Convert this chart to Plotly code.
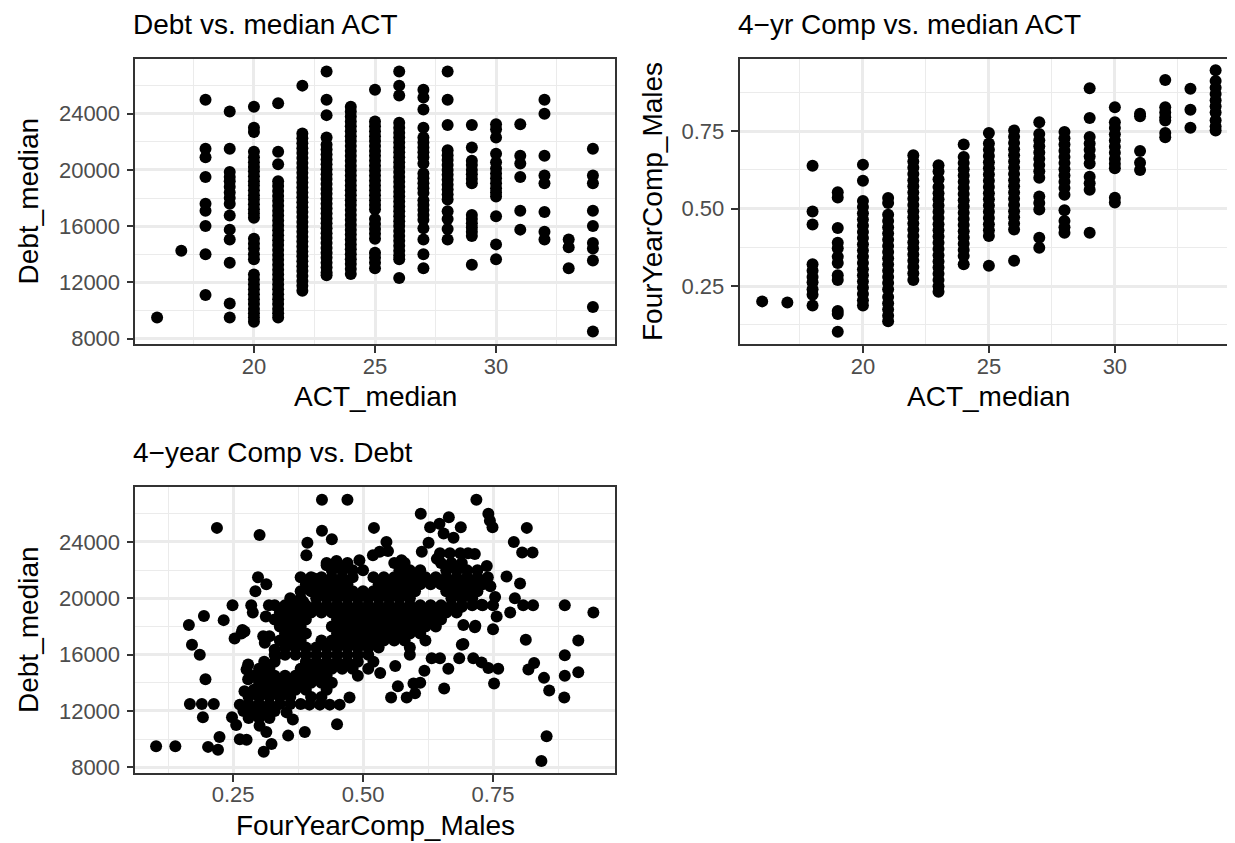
import plotly.graph_objects as go

# ---------------- data ----------------
act_levels = [16, 17, 18, 19, 20, 21, 22, 23, 24, 25, 26, 27, 28, 29, 30, 31, 32, 33, 34]

debt_by_act = [
    [9500],
    [14250],
    [25000, 21500, 20900, 19500, 17600, 17100, 16000, 14000, 11100],
    [24150, 21500, 19850, 19500, 19200, 18800, 18400, 18000, 17600, 16750, 15750, 15050, 13400, 10500, 9500],
    [24500, 23000, 22700, 21300, 20900, 20550, 20200, 19900, 19550, 19200, 18900, 18550, 18200, 17900, 17550,
     17200, 16900, 16600, 15100, 14750, 14400, 14000, 13650, 12550, 12200, 11850, 11500, 11150, 10800, 10450,
     10100, 9800, 9500, 9200],
    [24750, 21300, 20400, 19200, 18850, 18500, 18150, 17800, 17450, 17100, 16750, 16400, 16050, 15700, 15350,
     15000, 14650, 14300, 13950, 13600, 13250, 12900, 12550, 12200, 11850, 11500, 11150, 10800, 10450, 10100,
     9800, 9500],
    [26000, 22600, 22250, 21900, 21550, 21200, 20850, 20500, 20150, 19800, 19450, 19100, 18750, 18400, 18050,
     17700, 17350, 17000, 16650, 16300, 15950, 15600, 15250, 14900, 14550, 14200, 13850, 13500, 13150, 12800,
     12450, 12100, 11750, 11400],
    [27000, 25000, 23900, 22300, 21800, 21450, 21100, 20750, 20400, 20050, 19700, 19350, 19000, 18650, 18300,
     17950, 17600, 17250, 16900, 16550, 16200, 15850, 15500, 15150, 14800, 14450, 14100, 13750, 13400, 13050,
     12700, 12500],
    [24500, 24150, 23800, 23450, 23100, 22750, 22400, 22050, 21700, 21350, 21000, 20650, 20300, 19950, 19600,
     19250, 18900, 18550, 18200, 17850, 17500, 17150, 16800, 16450, 16100, 15750, 15400, 15050, 14700, 14350,
     14000, 13650, 13300, 12950, 12600],
    [25700, 23450, 23100, 22750, 22400, 22050, 21700, 21350, 21000, 20650, 20300, 19950, 19600, 19250, 18900,
     18550, 18200, 17850, 17500, 17200, 16500, 16150, 15800, 15450, 15100, 14100, 13750, 13400, 13000],
    [27000, 26000, 25300, 23350, 23000, 22650, 22300, 21950, 21600, 21250, 20900, 20550, 20200, 19850, 19500,
     19150, 18800, 18450, 18100, 17750, 17400, 17050, 16700, 16350, 16000, 15650, 15300, 14950, 14600, 14250,
     13900, 13650, 12300],
    [25700, 25150, 24300, 23000, 22300, 21950, 21600, 21250, 20900, 20450, 19750, 19400, 19050, 18700, 18350,
     17850, 17500, 17150, 16800, 16450, 15850, 15050, 14000, 13000],
    [27000, 25000, 23200, 21400, 21050, 20700, 20350, 20000, 19650, 19300, 18950, 18600, 18250, 17900, 17050,
     16500, 15800, 15050],
    [23200, 21600, 20650, 20350, 20000, 19700, 19350, 19050, 16800, 16500, 16200, 15900, 15600, 15300, 13250],
    [23250, 22900, 22300, 21150, 20550, 20100, 19750, 19400, 19050, 18700, 18400, 18100, 16700, 14700, 13650],
    [23250, 21000, 20450, 19500, 17100, 15750],
    [25000, 24000, 21000, 19600, 19050, 17000, 15600, 15050],
    [15050, 14500, 13000],
    [21500, 19600, 19050, 17100, 16000, 14800, 14400, 13550, 10250, 8500],
]

comp_by_act = [
    [0.201],
    [0.197],
    [0.638, 0.491, 0.449, 0.321, 0.300, 0.280, 0.263, 0.240, 0.222, 0.188],
    [0.553, 0.536, 0.438, 0.390, 0.372, 0.345, 0.325, 0.285, 0.270, 0.170, 0.160, 0.103],
    [0.642, 0.590, 0.525, 0.505, 0.485, 0.465, 0.445, 0.425, 0.405, 0.385, 0.365, 0.345, 0.325, 0.305, 0.285,
     0.265, 0.245, 0.225, 0.205, 0.188],
    [0.534, 0.518, 0.480, 0.460, 0.440, 0.420, 0.400, 0.380, 0.360, 0.340, 0.320, 0.300, 0.280, 0.260, 0.240,
     0.215, 0.195, 0.175, 0.155, 0.137],
    [0.672, 0.652, 0.632, 0.612, 0.592, 0.572, 0.552, 0.532, 0.512, 0.492, 0.472, 0.452, 0.432, 0.412, 0.392,
     0.372, 0.352, 0.332, 0.312, 0.292, 0.270],
    [0.640, 0.620, 0.595, 0.570, 0.550, 0.530, 0.510, 0.490, 0.470, 0.450, 0.430, 0.410, 0.390, 0.370, 0.350,
     0.330, 0.310, 0.290, 0.270, 0.250, 0.232],
    [0.707, 0.667, 0.647, 0.627, 0.607, 0.587, 0.567, 0.547, 0.527, 0.507, 0.487, 0.467, 0.447, 0.427, 0.407,
     0.387, 0.367, 0.347, 0.321],
    [0.744, 0.710, 0.690, 0.670, 0.650, 0.630, 0.610, 0.590, 0.570, 0.550, 0.530, 0.510, 0.490, 0.470, 0.450,
     0.430, 0.412, 0.316],
    [0.752, 0.732, 0.712, 0.692, 0.672, 0.652, 0.632, 0.612, 0.592, 0.572, 0.552, 0.532, 0.512, 0.492, 0.472,
     0.452, 0.433, 0.332],
    [0.779, 0.741, 0.721, 0.701, 0.681, 0.661, 0.641, 0.621, 0.600, 0.539, 0.518, 0.497, 0.406, 0.374],
    [0.747, 0.727, 0.707, 0.687, 0.667, 0.647, 0.627, 0.607, 0.587, 0.567, 0.545, 0.495, 0.460, 0.440, 0.422],
    [0.888, 0.792, 0.731, 0.710, 0.690, 0.668, 0.646, 0.603, 0.582, 0.561, 0.422],
    [0.827, 0.779, 0.760, 0.740, 0.720, 0.700, 0.680, 0.660, 0.645, 0.630, 0.535, 0.520],
    [0.806, 0.798, 0.686, 0.648, 0.625],
    [0.915, 0.827, 0.810, 0.795, 0.784, 0.744, 0.730],
    [0.887, 0.819, 0.761],
    [0.946, 0.912, 0.890, 0.870, 0.850, 0.830, 0.810, 0.785, 0.765, 0.752],
]

# panel 3: scattered schools (comp, debt)
p3_comp = [0.102, 0.139, 0.165, 0.171, 0.186, 0.194, 0.197, 0.167, 0.190, 0.192, 0.213, 0.202, 0.221, 0.224,
           0.219, 0.232, 0.249, 0.253, 0.266, 0.272, 0.248, 0.256, 0.263, 0.263, 0.276, 0.301, 0.298, 0.314,
           0.293, 0.285, 0.288, 0.268, 0.279, 0.276, 0.279, 0.272, 0.309, 0.324, 0.314, 0.301, 0.356, 0.388,
           0.450, 0.365, 0.353, 0.474, 0.308, 0.320, 0.311, 0.319, 0.313, 0.349, 0.372, 0.385, 0.393, 0.391,
           0.406, 0.421, 0.421, 0.470, 0.440, 0.430, 0.449, 0.462, 0.493, 0.519, 0.521, 0.545, 0.532, 0.548,
           0.574, 0.611, 0.613, 0.626, 0.629, 0.647, 0.665, 0.655, 0.674, 0.688, 0.718, 0.741, 0.744, 0.749,
           0.790, 0.806, 0.826, 0.815, 0.738, 0.683, 0.642, 0.648, 0.667, 0.687, 0.702, 0.715, 0.776, 0.802,
           0.792, 0.808, 0.827, 0.888, 0.943, 0.783, 0.757, 0.754, 0.745, 0.693, 0.715, 0.750, 0.728, 0.690,
           0.813, 0.914, 0.888, 0.888, 0.914, 0.887, 0.818, 0.829, 0.848, 0.858, 0.853, 0.843, 0.752, 0.760,
           0.741, 0.728, 0.712, 0.690, 0.685, 0.664, 0.656, 0.648, 0.632, 0.618, 0.610, 0.597, 0.600, 0.584,
           0.554, 0.567, 0.533, 0.562, 0.455, 0.436, 0.417, 0.397, 0.330, 0.332, 0.314, 0.308, 0.716, 0.693]
p3_debt = [9500, 9500, 18100, 16700, 16000, 18750, 14250, 12500, 12500, 11550, 12500, 9450, 9250, 10150,
           25000, 18450, 19500, 17150, 17500, 17650, 11550, 11000, 12450, 10000, 9950, 24500, 21500, 21000,
           20500, 19500, 19000, 17750, 15300, 14950, 14250, 13400, 9100, 9650, 10500, 10950, 10250, 10500,
           11050, 11400, 11900, 12950, 17300, 17300, 16850, 19500, 18700, 19200, 19400, 19750, 23950, 23050,
           21400, 24800, 27000, 27000, 24200, 22350, 22650, 22050, 22700, 23050, 25000, 24000, 23300, 23350,
           22700, 26000, 23300, 23950, 25050, 25300, 25750, 24600, 24300, 25050, 27000, 26000, 25500, 25050,
           24000, 23250, 23250, 25000, 22300, 22100, 22800, 23200, 23200, 23200, 23200, 23150, 21550, 21050,
           20000, 19500, 19500, 19500, 19000, 19000, 18700, 20100, 20850, 18100, 17950, 17800, 19550, 19400,
           17050, 17000, 15950, 14500, 14750, 12950, 14950, 15400, 14350, 13450, 10200, 8450, 13950, 15000,
           15050, 15450, 15750, 16700, 15750, 15000, 13600, 15750, 15750, 14850, 14000, 13950, 13250, 12950,
           12950, 13750, 14700, 15200, 12450, 12450, 12450, 12450, 16350, 15900, 15200, 13900, 18050, 16750]

# dense core of panel 3, one row of comp values per debt level
core_debt = [22500, 22000, 21500, 21000, 20500, 20000, 19500, 19000, 18500, 18000, 17500, 17000,
             16500, 16000, 15500, 15000, 14500, 14000, 13500, 13000, 12500, 12000, 11500]
core_comp = [
    [0.43, 0.45, 0.47, 0.56, 0.58, 0.65, 0.67, 0.69],
    [0.44, 0.46, 0.48, 0.50, 0.57, 0.59, 0.61, 0.66, 0.68, 0.70, 0.72],
    [0.38, 0.40, 0.42, 0.44, 0.46, 0.48, 0.52, 0.54, 0.56, 0.58, 0.60, 0.62, 0.64, 0.66, 0.68, 0.70, 0.72, 0.74],
    [0.39, 0.41, 0.43, 0.45, 0.47, 0.53, 0.55, 0.57, 0.59, 0.61, 0.63, 0.65, 0.67, 0.69, 0.71, 0.73],
    [0.38, 0.40, 0.42, 0.44, 0.46, 0.48, 0.50, 0.52, 0.54, 0.56, 0.58, 0.60, 0.66, 0.68, 0.70, 0.72],
    [0.36, 0.38, 0.41, 0.43, 0.45, 0.47, 0.49, 0.51, 0.53, 0.55, 0.57, 0.59, 0.67, 0.69, 0.71],
    [0.33, 0.35, 0.37, 0.39, 0.41, 0.43, 0.45, 0.47, 0.49, 0.51, 0.53, 0.55, 0.57, 0.59, 0.61, 0.63, 0.65,
     0.67, 0.69, 0.71, 0.73, 0.75],
    [0.34, 0.36, 0.38, 0.40, 0.42, 0.44, 0.46, 0.48, 0.50, 0.52, 0.54, 0.56, 0.58, 0.60, 0.62, 0.64, 0.66, 0.68],
    [0.33, 0.35, 0.37, 0.39, 0.45, 0.47, 0.49, 0.51, 0.53, 0.55, 0.57, 0.59, 0.61, 0.63, 0.65],
    [0.34, 0.36, 0.38, 0.44, 0.46, 0.48, 0.50, 0.52, 0.54, 0.56, 0.58, 0.60, 0.62, 0.64],
    [0.35, 0.37, 0.39, 0.45, 0.47, 0.49, 0.51, 0.53, 0.55, 0.57, 0.59, 0.61],
    [0.34, 0.36, 0.38, 0.42, 0.44, 0.46, 0.48, 0.50, 0.52, 0.54, 0.56, 0.58, 0.62],
    [0.35, 0.37, 0.39, 0.41, 0.43, 0.45, 0.47, 0.49, 0.51, 0.53, 0.59],
    [0.33, 0.35, 0.37, 0.39, 0.41, 0.43, 0.45, 0.47, 0.49, 0.51, 0.59],
    [0.31, 0.33, 0.39, 0.41, 0.43, 0.45, 0.47, 0.49, 0.52],
    [0.30, 0.32, 0.38, 0.40, 0.42, 0.44, 0.46, 0.48, 0.51],
    [0.29, 0.31, 0.33, 0.35, 0.37, 0.39, 0.41, 0.43, 0.49],
    [0.30, 0.32, 0.34, 0.36, 0.38, 0.40, 0.42, 0.44],
    [0.29, 0.31, 0.33, 0.35, 0.37, 0.39, 0.43],
    [0.28, 0.30, 0.32, 0.34, 0.36, 0.40, 0.42],
    [0.28, 0.30, 0.32, 0.34, 0.36, 0.38],
    [0.27, 0.29, 0.31, 0.33],
    [0.28, 0.30, 0.32],
]

titles = ["Debt vs. median ACT", "4\u2212yr Comp vs. median ACT", "4\u2212year Comp vs. Debt"]
x_titles = ["ACT_median", "ACT_median", "FourYearComp_Males"]
y_titles = ["Debt_median", "FourYearComp_Males", "Debt_median"]

# ---------------- build ----------------
x1, y1, x2, y2 = [], [], [], []
for a, ds in zip(act_levels, debt_by_act):
    x1 += [a] * len(ds)
    y1 += ds
for a, cs in zip(act_levels, comp_by_act):
    x2 += [a] * len(cs)
    y2 += cs
x3, y3 = list(p3_comp), list(p3_debt)
for d, cs in zip(core_debt, core_comp):
    x3 += cs
    y3 += [d] * len(cs)

W, H = 1235, 843
FONT = "Liberation Sans, Arial, Helvetica, sans-serif"
MS = 12

fig = go.Figure()
mk = dict(color="black", size=MS, line=dict(width=0))
fig.add_trace(go.Scatter(x=x1, y=y1, mode="markers", marker=mk, xaxis="x", yaxis="y"))
fig.add_trace(go.Scatter(x=x2, y=y2, mode="markers", marker=mk, xaxis="x2", yaxis="y2"))
fig.add_trace(go.Scatter(x=x3, y=y3, mode="markers", marker=mk, xaxis="x3", yaxis="y3"))


def px_x(p):
    return p / W


def px_y(p):
    return 1 - p / H


def axis(domain, rng, dtick, minor_dtick, anchor, standoff, fmt=None):
    d = dict(
        domain=domain, range=rng, anchor=anchor, tick0=0, dtick=dtick,
        showline=True, mirror=True, linecolor="#333333", linewidth=1.6,
        ticks="outside", ticklen=7, tickwidth=1.6, tickcolor="#333333",
        showgrid=True, gridcolor="#EBEBEB", gridwidth=2.6, zeroline=False,
        tickfont=dict(size=22, color="#4D4D4D", family=FONT),
        minor=dict(tick0=0, dtick=minor_dtick, showgrid=True, gridcolor="#EBEBEB", gridwidth=1.3, ticks=""),
        ticklabelstandoff=standoff, fixedrange=True, layer="below traces",
    )
    if fmt:
        d["tickformat"] = fmt
    return d


L1, R1 = 127.3, 606.7
L2, R2 = 731.5, 1230.3
T1, B1 = 51.0, 339.3
T3, B3 = 482.7, 771.7

act_rng = [15.1, 34.9]
debt_rng = [7575, 27925]
comp_rng = [0.062, 0.984]

XS, YS = -6, 2

fig.update_layout(
    width=W, height=H, margin=dict(l=0, r=0, t=0, b=0),
    paper_bgcolor="white", plot_bgcolor="white", showlegend=False,
    font=dict(family=FONT, color="black"),
    xaxis=axis([px_x(L1), px_x(R1)], act_rng, 5, 2.5, "y", XS),
    yaxis=axis([px_y(B1), px_y(T1)], debt_rng, 4000, 2000, "x", YS, "d"),
    xaxis2=axis([px_x(L2), px_x(R2)], act_rng, 5, 2.5, "y2", XS),
    yaxis2=axis([px_y(B1), px_y(T1)], comp_rng, 0.25, 0.125, "x2", YS, ".2f"),
    xaxis3=axis([px_x(L1), px_x(R1)], comp_rng, 0.25, 0.125, "y3", XS, ".2f"),
    yaxis3=axis([px_y(B3), px_y(T3)], debt_rng, 4000, 2000, "x3", YS, "d"),
)

ann = []


def add_text(text, x, y, size=28, angle=0, xanchor="center"):
    ann.append(dict(text=text, x=px_x(x), y=px_y(y), xref="paper", yref="paper", showarrow=False,
                    xanchor=xanchor, yanchor="middle", textangle=angle, borderpad=0, borderwidth=0,
                    font=dict(size=size, color="black", family=FONT)))


add_text(titles[0], L1 - 2, 16.5, xanchor="left")
add_text(titles[1], L2 - 1.5, 16.5, xanchor="left")
add_text(titles[2], L1 - 2, 448.2, xanchor="left")
add_text(x_titles[0], (L1 + R1) / 2, 392)
add_text(x_titles[1], (L2 + R2) / 2, 392)
add_text(x_titles[2], (L1 + R1) / 2, 824)
add_text(y_titles[0], 21, (T1 + B1) / 2, angle=-90)
add_text(y_titles[1], 644.5, (T1 + B1) / 2, angle=-90)
add_text(y_titles[2], 21, (T3 + B3) / 2, angle=-90)
fig.update_layout(annotations=ann)

fig.write_html("out.html")
